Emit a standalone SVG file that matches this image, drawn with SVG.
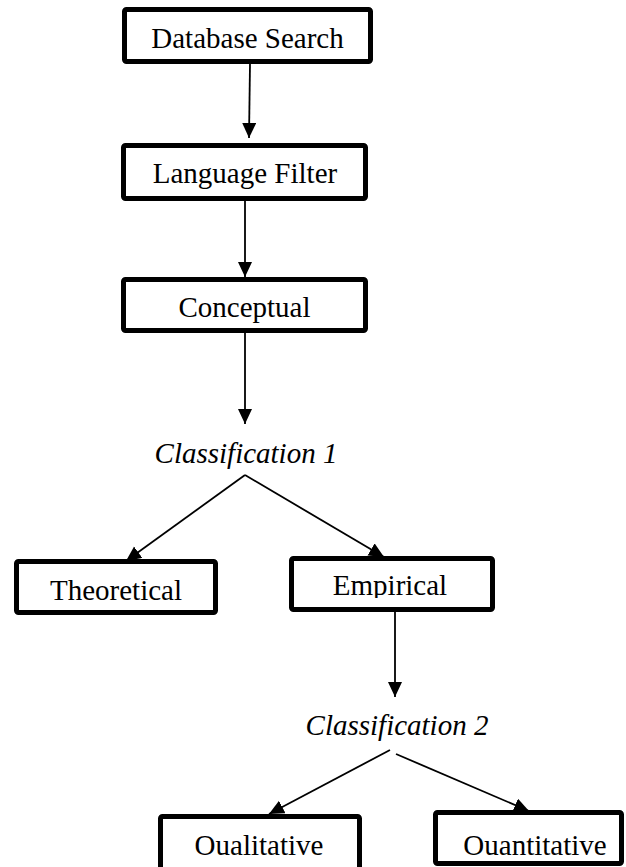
<svg xmlns="http://www.w3.org/2000/svg" width="626" height="867" viewBox="0 0 626 867">
<style>
.box{fill:#fff;stroke:#000;stroke-width:5;stroke-linejoin:round}
.lbl{font-family:"Liberation Serif","Times New Roman",serif;font-size:29px;fill:#000;text-anchor:middle}
.cls{font-family:"Liberation Serif","Times New Roman",serif;font-size:29px;font-style:italic;fill:#000;text-anchor:middle}
.edge{stroke:#000;stroke-width:1.8;fill:none;marker-end:url(#ah)}
</style>
<defs>
<marker id="ah" markerUnits="userSpaceOnUse" markerWidth="16" markerHeight="15" refX="15" refY="7" orient="auto">
<path d="M0,0 L15,7 L0,14 z" fill="#000"/>
</marker>
<clipPath id="clipEmp"><rect x="294" y="561" width="196" height="37"/></clipPath>
</defs>
<rect width="626" height="867" fill="#fff"/>
<g id="connectors">
<line class="edge" x1="250" y1="64" x2="249" y2="138"/>
<line class="edge" x1="245" y1="201" x2="245" y2="277"/>
<line class="edge" x1="245" y1="333" x2="245" y2="424"/>
<line class="edge" x1="245" y1="475" x2="126" y2="561"/>
<line class="edge" x1="245" y1="475" x2="384" y2="557"/>
<line class="edge" x1="395" y1="612" x2="395" y2="697"/>
<line class="edge" x1="390" y1="750" x2="269" y2="814"/>
<line class="edge" x1="396" y1="754" x2="529" y2="811"/>
</g>
<g id="database-search">
<rect class="box" x="124.5" y="9.5" width="246" height="52" rx="2"/>
<text class="lbl" x="247.5" y="48">Database Search</text>
</g>
<g id="language-filter">
<rect class="box" x="123.5" y="145.5" width="242" height="53" rx="2"/>
<text class="lbl" x="245" y="183">Language Filter</text>
</g>
<g id="conceptual">
<rect class="box" x="123.5" y="279.5" width="242" height="51" rx="2"/>
<text class="lbl" x="244.5" y="317">Conceptual</text>
</g>
<g id="classification-1">
<text class="cls" x="246" y="463">Classification 1</text>
</g>
<g id="theoretical">
<rect class="box" x="16.5" y="561.5" width="199" height="51" rx="2"/>
<text class="lbl" x="116" y="600">Theoretical</text>
</g>
<g id="empirical">
<rect class="box" x="291.5" y="558.5" width="201" height="51" rx="2"/>
<text class="lbl" x="390" y="595" clip-path="url(#clipEmp)">Empirical</text>
</g>
<g id="classification-2">
<text class="cls" x="397" y="735">Classification 2</text>
</g>
<g id="qualitative">
<rect class="box" x="160.5" y="816.5" width="199" height="56" rx="2"/>
<text class="lbl" x="259" y="855">Oualitative</text>
</g>
<g id="quantitative">
<rect class="box" x="435.5" y="812.5" width="186" height="51" rx="2"/>
<text class="lbl" x="535" y="855">Ouantitative</text>
</g>
</svg>
